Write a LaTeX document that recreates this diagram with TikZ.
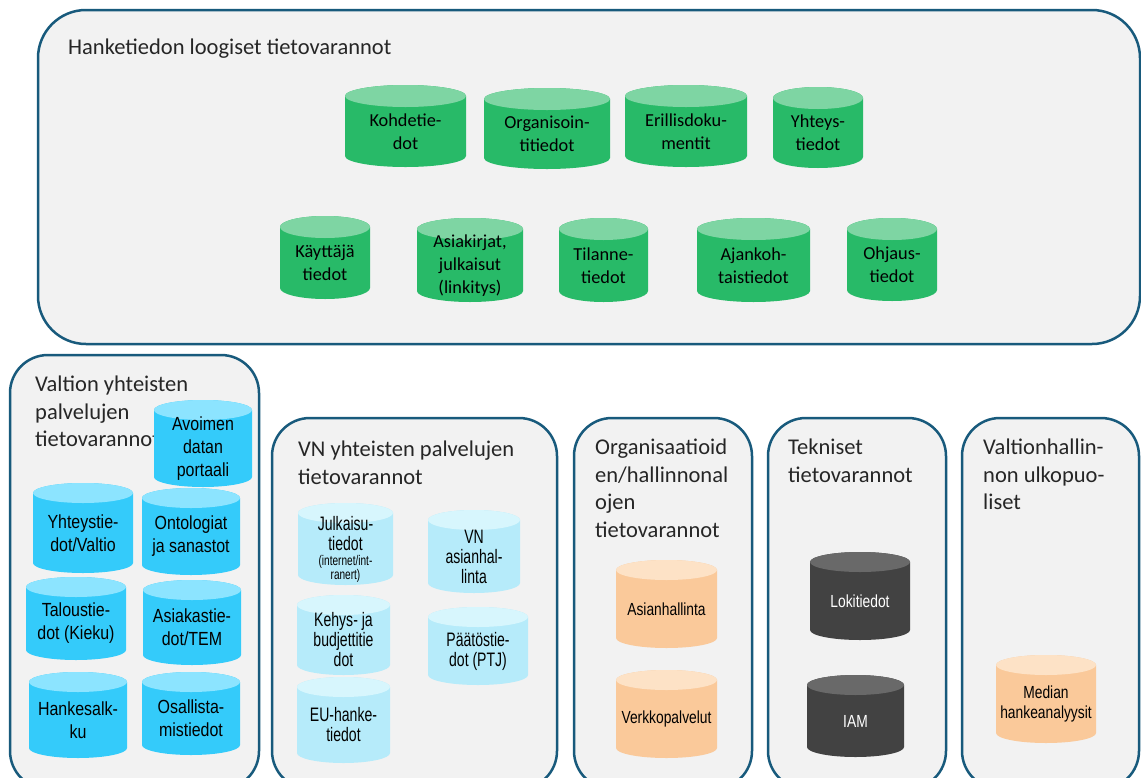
\documentclass[tikz,border=0pt]{standalone}
\usepackage{fontspec}
\setmainfont{Carlito}
\newfontfamily\arialA[FakeStretch=0.84]{Liberation Sans}
\newfontfamily\arialB[FakeStretch=0.72]{Liberation Sans}
\newfontfamily\arialC[FakeStretch=0.79]{Liberation Sans}
\definecolor{bord}{RGB}{24,90,124}
\definecolor{panel}{RGB}{242,242,242}
\definecolor{ttl}{RGB}{38,38,38}
\definecolor{grnB}{RGB}{40,186,104}
\definecolor{grnT}{RGB}{126,213,163}
\definecolor{bluB}{RGB}{52,203,250}
\definecolor{bluT}{RGB}{140,228,255}
\definecolor{lbuB}{RGB}{182,235,250}
\definecolor{lbuT}{RGB}{215,246,253}
\definecolor{orgB}{RGB}{250,201,154}
\definecolor{orgT}{RGB}{253,226,198}
\definecolor{gryB}{RGB}{66,66,66}
\definecolor{gryT}{RGB}{105,105,105}
\tikzset{
  pnl/.style={draw=bord, line width=2.5pt, fill=panel},
  ttlstyle/.style={anchor=north west, inner sep=0pt, align=left, text=ttl,
    font=\fontsize{22.5}{27.5}\selectfont},
  gtext/.style={inner sep=0pt, align=center, text={RGB:red,30;green,40;blue,35},
    font=\fontsize{18.3}{23}\selectfont},
  btext/.style={inner sep=0pt, align=center, text={RGB:red,25;green,35;blue,45},
    font=\arialA\fontsize{19}{23}\selectfont},
  ltext/.style={inner sep=0pt, align=center, text={RGB:red,25;green,35;blue,45},
    font=\arialB\fontsize{19.5}{20}\selectfont},
  otext/.style={inner sep=0pt, align=center, text={RGB:red,25;green,25;blue,25},
    font=\arialC\fontsize{17.5}{20}\selectfont},
  wtext/.style={otext, text=white},
}
% #1 name, #2 x1, #3 x2, #4 top, #5 bottom, #6 ry, #7 colour prefix, #8 text style, #9 text
\newcommand\dbcyl[9]{%
  \fill[#7B] ({#2},{-#4-#6}) -- ({#2},{-#5+#6})
    arc[start angle=180,end angle=360,x radius={(#3-#2)/2},y radius=#6]
    -- ({#3},{-#4-#6})
    arc[start angle=0,end angle=180,x radius={(#3-#2)/2},y radius=#6] -- cycle;
  \fill[#7T] ({(#2+#3)/2},{-#4-#6}) ellipse[x radius={(#3-#2)/2},y radius=#6];
  \node[#8] (#1) at ({(#2+#3)/2},{-(#4+#5)/2-#6/2}) {#9};
}
\begin{document}
\begin{tikzpicture}[x=1pt,y=1pt]
\useasboundingbox (0,0) rectangle (1141,-777);
\clip (0,0) rectangle (1141,-777);
\fill[white] (0,0) rectangle (1141,-777);

% top panel
\draw[pnl, rounded corners=48pt] (38,-10) rectangle (1140,-344);
\node[ttlstyle] (t0) at (68,-39) {Hanketiedon loogiset tietovarannot};

\dbcyl{kohde}{345}{466}{85}{167}{11}{grn}{gtext}{Kohdetie-\\dot}
\dbcyl{organ}{484}{610}{88}{169}{11}{grn}{gtext}{Organisoin-\\titiedot}
\dbcyl{erill}{625}{747}{85}{167}{11}{grn}{gtext}{Erillisdoku-\\mentit}
\dbcyl{yhte}{773}{863}{87}{168}{11}{grn}{gtext}{Yhteys-\\tiedot}
\dbcyl{kaytt}{280}{370}{216}{299}{11}{grn}{gtext}{Käyttäjä\\tiedot}
\dbcyl{asiak}{417}{523}{218}{302}{11}{grn}{gtext}{Asiakirjat,\\julkaisut\\(linkitys)}
\dbcyl{tilan}{559}{648}{218}{302}{11}{grn}{gtext}{Tilanne-\\tiedot}
\dbcyl{ajank}{697}{810}{218}{302}{11}{grn}{gtext}{Ajankoh-\\taistiedot}
\dbcyl{ohjau}{847}{937}{218}{301}{11}{grn}{gtext}{Ohjaus-\\tiedot}

% bottom panels
\draw[pnl, rounded corners=38pt] (10,-355) rectangle (259,-789);
\draw[pnl, rounded corners=38pt] (272,-418) rectangle (557,-789);
\draw[pnl, rounded corners=38pt] (574,-418) rectangle (752,-789);
\draw[pnl, rounded corners=38pt] (768,-418) rectangle (946,-789);
\draw[pnl, rounded corners=38pt] (962,-418) rectangle (1139,-789);

\node[ttlstyle] (t1) at (35,-376) {Valtion yhteisten\\palvelujen\\tietovarannot};
\node[ttlstyle] (t2) at (298,-441) {VN yhteisten palvelujen\\tietovarannot};
\node[ttlstyle] (t3) at (595,-439) {Organisaatioid\\en/hallinnonal\\ojen\\tietovarannot};
\node[ttlstyle] (t4) at (788,-439) {Tekniset\\tietovarannot};
\node[ttlstyle] (t5) at (983,-439) {Valtionhallin-\\non ulkopuo-\\liset};

% panel 1 (blue)
\dbcyl{hanke}{29}{127}{672}{758}{10}{blu}{btext}{Hankesalk-\\ku}
\dbcyl{osall}{142}{240}{672}{755}{10}{blu}{btext}{Osallista-\\mistiedot}
\dbcyl{talou}{26}{126}{577}{660}{10}{blu}{btext}{Taloustie-\\dot (Kieku)}
\dbcyl{asiakt}{143}{241}{580}{665}{10}{blu}{btext}{Asiakastie-\\dot/TEM}
\dbcyl{yhtv}{33}{133}{483}{573}{10}{blu}{btext}{Yhteystie-\\dot/Valtio}
\dbcyl{ontol}{142}{240}{488}{575}{10}{blu}{btext}{Ontologiat\\ja sanastot}
\dbcyl{avoim}{154}{252}{400}{487}{10}{blu}{btext}{Avoimen\\datan\\portaali}

% panel 2 (light blue)
\dbcyl{euhan}{297}{390}{677}{763}{10}{lbu}{ltext}{EU-hanke-\\tiedot}
\dbcyl{kehys}{297}{390}{595}{675}{10}{lbu}{ltext}{Kehys- ja\\budjettitie\\dot}
\dbcyl{julka}{298}{393}{503}{585}{10}{lbu}{ltext}{Julkaisu-\\tiedot\\[-5pt]{\fontsize{14}{14}\selectfont (internet/int-}\\[-6pt]{\fontsize{14}{14}\selectfont ranert)}}
\dbcyl{vnasi}{428}{520}{510}{593}{10}{lbu}{ltext}{VN\\asianhal-\\linta}
\dbcyl{paato}{428}{528}{607}{685}{10}{lbu}{ltext}{Päätöstie-\\dot (PTJ)}

% panel 3 (orange)
\dbcyl{asianh}{616}{717}{560}{648}{10}{org}{otext}{Asianhallinta}
\dbcyl{verkko}{616}{717}{670}{758}{10}{org}{otext}{Verkkopalvelut}

% panel 4 (grey)
\dbcyl{lokit}{810}{910}{552}{640}{10}{gry}{wtext}{Lokitiedot}
\dbcyl{iam}{807}{904}{675}{757}{10}{gry}{wtext}{IAM}

% panel 5
\dbcyl{media}{996}{1096}{655}{743}{10}{org}{otext}{Median\\hankeanalyysit}
\end{tikzpicture}
\end{document}
